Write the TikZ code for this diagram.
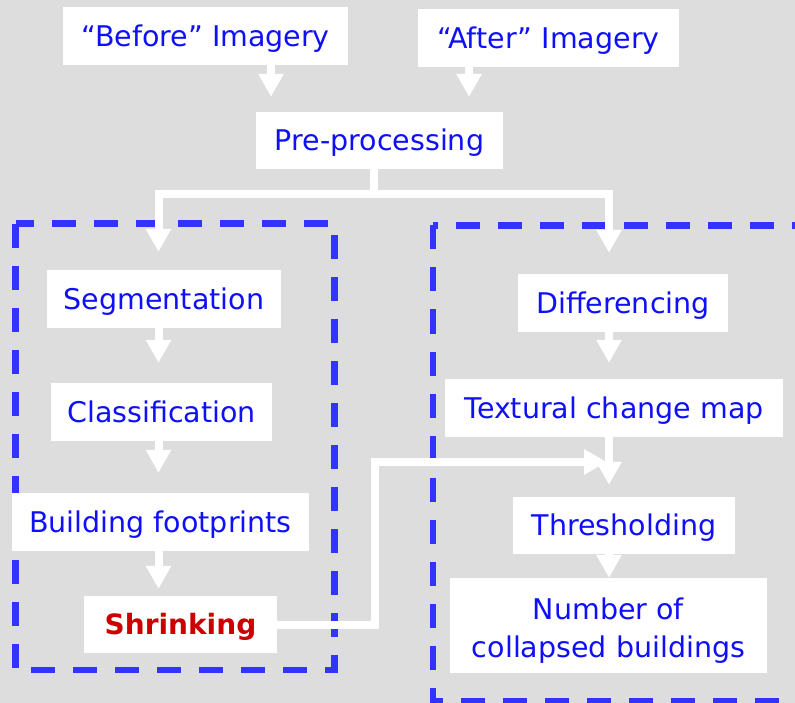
\documentclass[tikz,border=0pt]{standalone}
\usepackage{fontspec}
\setmainfont{DejaVu Sans}
\usetikzlibrary{arrows.meta}
\definecolor{bgc}{RGB}{221,221,221}
\definecolor{txtblue}{RGB}{15,15,250}
\definecolor{dashblue}{RGB}{51,51,255}
\definecolor{shrred}{RGB}{204,0,0}
\pgfdeclarelayer{bg}
\pgfsetlayers{bg,main}
\begin{document}
\begin{tikzpicture}[x=1pt,y=-1pt,
  box/.style={fill=white, inner sep=0pt, text=txtblue,
    font=\fontsize{28.5pt}{38pt}\selectfont},
  oneline/.style={text height=20.8pt, text depth=0pt},
  flow/.style={draw=white, line width=8pt, line join=miter,
    -{Triangle[length=23pt,width=24pt]}},
  group/.style={draw=dashblue, line width=6.5pt, dash pattern=on 24pt off 18pt}]

\useasboundingbox (0,0) rectangle (795,703);
\clip (0,0) rectangle (795,703);

% nodes
\node[box,oneline,minimum width=285pt,minimum height=58pt] (before) at (205.5,36) {“Before” Imagery};
\node[box,oneline,minimum width=261pt,minimum height=58pt] (after) at (548.5,38) {“After” Imagery};
\node[box,oneline,minimum width=247pt,minimum height=57pt] (pre) at (379.5,140.5) {Pre-processing};
\node[box,oneline,minimum width=234pt,minimum height=58pt] (seg) at (164,299) {Segmentation};
\node[box,oneline,minimum width=221pt,minimum height=58pt] (cls) at (161.5,412) {Classification};
\node[box,oneline,minimum width=297pt,minimum height=58pt] (bfp) at (160.5,522) {Building footprints};
\node[box,oneline,minimum width=193pt,minimum height=57pt,text=shrred,
  font=\fontsize{28pt}{33pt}\selectfont\bfseries] (shr) at (180.5,624.5) {Shrinking};
\node[box,oneline,minimum width=210pt,minimum height=58pt] (diff) at (623,303) {Differencing};
\node[box,oneline,minimum width=338pt,minimum height=58pt] (tcm) at (614,408) {Textural change map};
\node[box,oneline,minimum width=222pt,minimum height=57pt] (thr) at (624,525.5) {Thresholding};
\node[box,align=center,minimum width=317pt,minimum height=95pt] (num) at (608.5,625.5)
  {\rule{0pt}{31pt}Number of\\collapsed buildings};

% background and dashed groups
\begin{pgfonlayer}{bg}
  \fill[bgc] (0,0) rectangle (795,703);
  \draw[group] (15.5,223.7) -- (15.5,670) -- (334.5,670) -- (334.5,223.7) -- cycle;
  \draw[group] (433,225.5) -- (433,701.5) -- (820.5,701.5) -- (820.5,225.5) -- cycle;
\end{pgfonlayer}

% helper coordinates
\coordinate (xb) at (271,0);
\coordinate (xa) at (469,0);
\coordinate (xp) at (374,0);
\coordinate (xl) at (158.5,0);
\coordinate (xr) at (609,0);
\coordinate (split) at (374,194);
\coordinate (bend) at (375,462);
\coordinate (join) at (607,462);

% connectors
\draw[flow,shorten >=15pt] (before.south -| xb) -- (pre.north -| xb);
\draw[flow,shorten >=15pt] (after.south -| xa) -- (pre.north -| xa);
\draw[flow,shorten >=18pt] (pre.south -| xp) -- (split) -| (seg.north -| xl);
\draw[flow,shorten >=21pt] (pre.south -| xp) -- (split) -| (diff.north -| xr);
\draw[flow,shorten >=20pt] (seg.south -| xl) -- (cls.north -| xl);
\draw[flow,shorten >=20pt] (cls.south -| xl) -- (bfp.north -| xl);
\draw[flow,shorten >=7pt] (bfp.south -| xl) -- (shr.north -| xl);
\draw[flow,shorten >=16pt] (diff.south -| xr) -- (tcm.north -| xr);
\draw[flow,shorten >=12pt] (tcm.south -| xr) -- (thr.north -| xr);
\draw[flow] (thr.south -| xr) -- (num.north -| xr);
\draw[flow] (shr.east) -| (bend) -- (join);

\end{tikzpicture}
\end{document}
